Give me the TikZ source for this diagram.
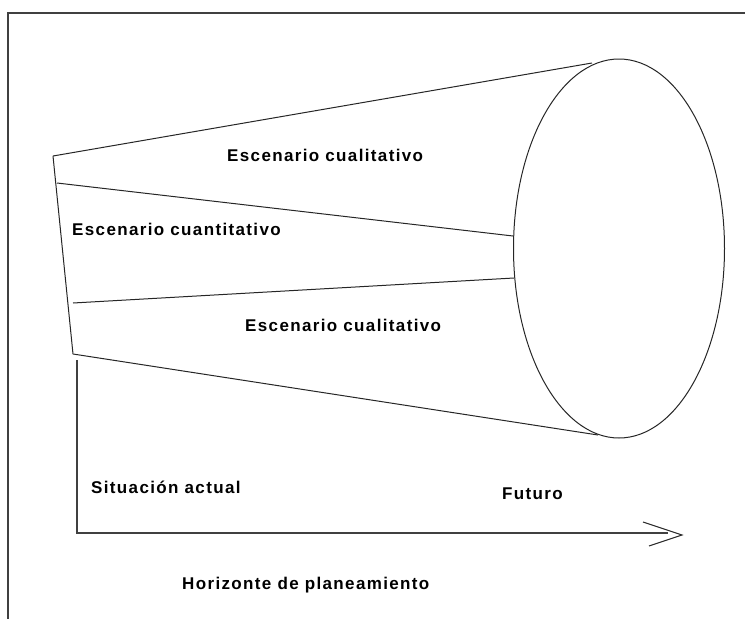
\documentclass[tikz,border=0pt]{standalone}
\usepackage{fontspec}
\setmainfont{Liberation Sans}[LetterSpace=8]
\begin{document}
\begin{tikzpicture}[x=1pt,y=-1pt,
  lbl/.style={font=\fontsize{17}{19}\selectfont\bfseries, anchor=base west, inner sep=0pt},
  ln/.style={line width=1pt, black!85}]
\useasboundingbox (0,0) rectangle (745,619);
% frame
\draw[line width=1.3pt, black!75] (745,13) -- (8,13) -- (8,619);
% funnel corners
\coordinate (tl) at (53,156);
\coordinate (bl) at (73,354);
\coordinate (m1) at (57,183);
\coordinate (m2) at (73,303);
\coordinate (te) at (592,63);
\coordinate (be) at (598,435);
\coordinate (e1) at (513,236);
\coordinate (e2) at (514,278);
\draw[ln] (tl) -- (bl);
\draw[ln] (tl) -- (te);
\draw[ln] (bl) -- (be);
\draw[ln] (m1) -- (e1);
\draw[ln] (m2) -- (e2);
\draw[ln] (619,248.5) ellipse [x radius=105.5, y radius=189.5];
% axis
\coordinate (a0) at (77,360);
\coordinate (a1) at (77,533);
\coordinate (a2) at (668,533);
\coordinate (h1) at (643,522);
\coordinate (h2) at (682,535);
\coordinate (h3) at (649,546);
\draw[line width=1.3pt, black!75] (a0) -- (a1) -- (a2);
\draw[ln] (h1) -- (h2) -- (h3);
% labels
\node[lbl] (t1) at (227,161) {Escenario cualitativo};
\node[lbl] (t2) at (72,235) {Escenario cuantitativo};
\node[lbl] (t3) at (245,331) {Escenario cualitativo};
\node[lbl] (t4) at (91,493) {Situación actual};
\node[lbl] (t5) at (502,499) {Futuro};
\node[lbl] (t6) at (182,589) {Horizonte de planeamiento};
\end{tikzpicture}
\end{document}
